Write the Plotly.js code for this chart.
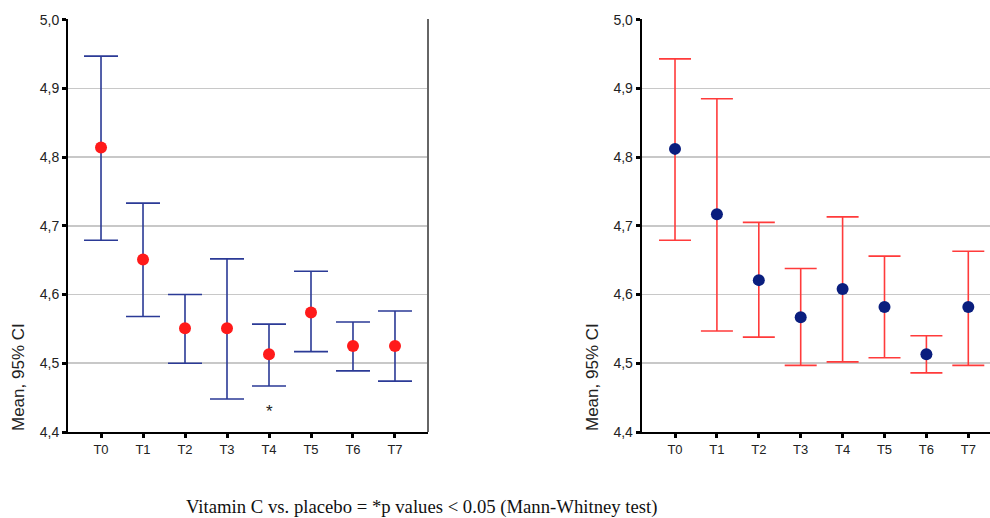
<!DOCTYPE html>
<html>
<head>
<meta charset="utf-8">
<script src="https://cdn.plot.ly/plotly-3.0.1.min.js"></script>
<style>html,body{margin:0;padding:0;background:#fff;}#chart{width:990px;height:518px;}</style>
</head>
<body>
<div id="chart"></div>
<script>
// Categories (time points)
const categories = ['T0','T1','T2','T3','T4','T5','T6','T7'];
// Left panel: means and 95% CI bounds
const leftMean  = [4.814, 4.651, 4.551, 4.551, 4.513, 4.574, 4.525, 4.525];
const leftUpper = [4.947, 4.733, 4.600, 4.652, 4.557, 4.634, 4.560, 4.576];
const leftLower = [4.679, 4.568, 4.500, 4.448, 4.467, 4.517, 4.489, 4.474];
// Right panel: means and 95% CI bounds
const rightMean  = [4.812, 4.717, 4.621, 4.567, 4.608, 4.582, 4.513, 4.582];
const rightUpper = [4.943, 4.885, 4.705, 4.638, 4.713, 4.656, 4.540, 4.663];
const rightLower = [4.679, 4.547, 4.538, 4.497, 4.502, 4.508, 4.486, 4.497];
// Axis ticks
const yTickVals = [4.4, 4.5, 4.6, 4.7, 4.8, 4.9, 5.0];
const yTickText = ['4,4', '4,5', '4,6', '4,7', '4,8', '4,9', '5,0'];
const yTitle = 'Mean, 95% CI';
const footnote = 'Vitamin C vs. placebo = *p values < 0.05 (Mann-Whitney test)';
const sigMark = {category: 'T4', value: 4.43, text: '*'};

const W = 990, H = 518;
const px = v => v / W, py = v => 1 - v / H;

const diff = (a, b) => a.map((v, i) => v - b[i]);

const traces = [
  {
    x: categories, y: leftMean, type: 'scatter', mode: 'markers',
    xaxis: 'x', yaxis: 'y',
    marker: {color: '#FF1A1A', size: 12},
    error_y: {type: 'data', symmetric: false,
      array: diff(leftUpper, leftMean), arrayminus: diff(leftMean, leftLower),
      color: '#2B3A96', thickness: 1.6, width: 17},
    hoverinfo: 'skip', showlegend: false
  },
  {
    x: categories, y: rightMean, type: 'scatter', mode: 'markers',
    xaxis: 'x2', yaxis: 'y2',
    marker: {color: '#0A1E7E', size: 12},
    error_y: {type: 'data', symmetric: false,
      array: diff(rightUpper, rightMean), arrayminus: diff(rightMean, rightLower),
      color: '#FF3B3B', thickness: 1.6, width: 16},
    hoverinfo: 'skip', showlegend: false
  }
];

const yAxisBase = {
  range: [4.4, 5.001], tickvals: yTickVals, ticktext: yTickText,
  showgrid: true, gridcolor: '#C8C8C8', gridwidth: 1.6, zeroline: false,
  showline: true, linecolor: '#000', linewidth: 2,
  ticks: 'outside', ticklen: 4, tickwidth: 3, tickcolor: '#000',
  tickfont: {family: 'Liberation Sans, Arial, sans-serif', size: 14, color: '#222'},
  fixedrange: true
};
const xAxisBase = {
  type: 'category', showgrid: false, zeroline: false,
  showline: true, linecolor: '#000', linewidth: 2,
  ticks: 'outside', ticklen: 4, tickwidth: 3, tickcolor: '#000',
  tickfont: {family: 'Liberation Sans, Arial, sans-serif', size: 13, color: '#222'},
  fixedrange: true
};

const layout = {
  width: W, height: H,
  margin: {l: 0, r: 0, t: 0, b: 0, pad: 0},
  paper_bgcolor: '#fff', plot_bgcolor: '#fff',
  showlegend: false,
  xaxis: Object.assign({}, xAxisBase, {domain: [px(68), px(428)], range: [-0.786, 7.786], anchor: 'y'}),
  yaxis: Object.assign({}, yAxisBase, {domain: [py(432), py(19)], anchor: 'x'}),
  xaxis2: Object.assign({}, xAxisBase, {domain: [px(641.7), 1], range: [-0.795, 7.518], anchor: 'y2'}),
  yaxis2: Object.assign({}, yAxisBase, {domain: [py(432), py(19)], anchor: 'x2'}),
  shapes: [
    {type: 'line', xref: 'x domain', yref: 'y domain', x0: 1, x1: 1, y0: 0, y1: 1,
     line: {color: '#666', width: 2}}
  ],
  annotations: [
    {xref: 'paper', yref: 'paper', x: px(18), y: py(377), text: yTitle, textangle: -90,
     showarrow: false, xanchor: 'center', yanchor: 'middle',
     font: {family: 'Liberation Sans, Arial, sans-serif', size: 17, color: '#222'}},
    {xref: 'paper', yref: 'paper', x: px(592), y: py(377), text: yTitle, textangle: -90,
     showarrow: false, xanchor: 'center', yanchor: 'middle',
     font: {family: 'Liberation Sans, Arial, sans-serif', size: 17, color: '#222'}},
    {xref: 'x', yref: 'y', x: sigMark.category, y: sigMark.value, text: sigMark.text,
     showarrow: false, xanchor: 'center', yanchor: 'middle',
     font: {family: 'Liberation Sans, Arial, sans-serif', size: 17, color: '#222'}},
    {xref: 'paper', yref: 'paper', x: px(421.5), y: py(507), text: footnote,
     showarrow: false, xanchor: 'center', yanchor: 'middle',
     font: {family: 'Liberation Serif, Times New Roman, serif', size: 18.7, color: '#111'}}
  ]
};

Plotly.newPlot('chart', traces, layout, {displayModeBar: false, staticPlot: true});
</script>
</body>
</html>
